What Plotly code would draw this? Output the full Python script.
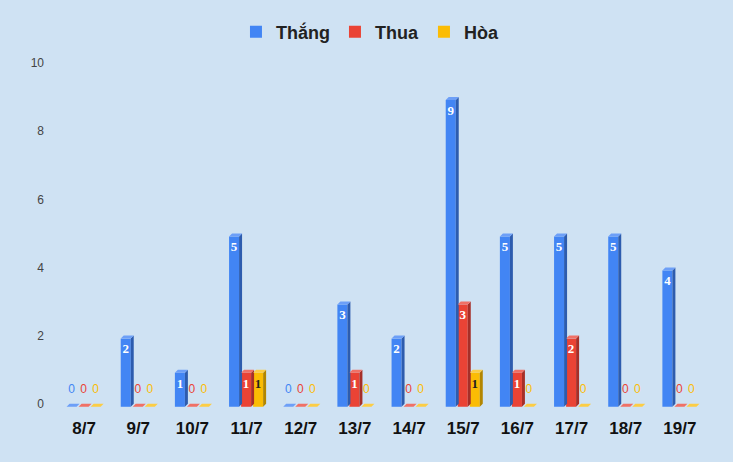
import plotly.graph_objects as go

# --- data ---
dates = ["8/7", "9/7", "10/7", "11/7", "12/7", "13/7", "14/7", "15/7", "16/7", "17/7", "18/7", "19/7"]
thang = [0, 2, 1, 5, 0, 3, 2, 9, 5, 5, 5, 4]
thua = [0, 0, 0, 1, 0, 1, 0, 3, 1, 2, 0, 0]
hoa = [0, 0, 0, 1, 0, 0, 0, 1, 0, 0, 0, 0]

# name, values, front, side, top, label colour
series = [
    ("Thắng", thang, "#4285f4", "#2d5cae", "#6d9ff7", "white"),
    ("Thua", thua, "#ea4335", "#a62f28", "#f07066", "white"),
    ("Hòa", hoa, "#fbbc04", "#b38600", "#fccd45", "#222222"),
]

offsets = [-0.231, -0.009, 0.213]  # group position of each series
bw = 0.185   # front face width
dx = 0.055   # depth, x units
dy = 0.088   # depth, y units

fig = go.Figure()

# front faces (legend entries)
for (name, vals, front, side, top, lab), off in zip(series, offsets):
    fig.add_trace(go.Bar(
        name=name,
        x=[k + off for k in range(len(vals))],
        y=vals,
        base=-dy,
        width=bw,
        marker=dict(color=front, line=dict(width=0)),
        hoverinfo="skip",
    ))

# side and top faces for the 3D look
for (name, vals, front, side, top, lab), off in zip(series, offsets):
    sx, sy, tx, ty = [], [], [], []
    for k, v in enumerate(vals):
        x0 = k + off - bw / 2
        x1 = k + off + bw / 2
        if v > 0:
            sx += [x1, x1 + dx, x1 + dx, x1, x1, None]
            sy += [-dy, 0, v, v - dy, -dy, None]
        tx += [x0, x0 + dx, x1 + dx, x1, x0, None]
        ty += [v - dy, v, v, v - dy, v - dy, None]
    fig.add_trace(go.Scatter(x=sx, y=sy, mode="lines", fill="toself", fillcolor=side,
                             line=dict(width=0), showlegend=False, hoverinfo="skip"))
    fig.add_trace(go.Scatter(x=tx, y=ty, mode="lines", fill="toself", fillcolor=top,
                             line=dict(width=0), showlegend=False, hoverinfo="skip"))

# value labels
for (name, vals, front, side, top, lab), off in zip(series, offsets):
    nz = [(k, v) for k, v in enumerate(vals) if v > 0]
    z = [k for k, v in enumerate(vals) if v == 0]
    fig.add_trace(go.Scatter(
        x=[k + off for k, v in nz], y=[v - dy - 0.15 for k, v in nz],
        text=[str(v) for k, v in nz], mode="text", textposition="bottom center",
        textfont=dict(family="Liberation Serif", size=13, color=lab, weight="bold"),
        showlegend=False, hoverinfo="skip", cliponaxis=False,
    ))
    fig.add_trace(go.Scatter(
        x=[k + off for k in z], y=[0.22 for k in z],
        text=["0" for k in z], mode="text", textposition="top center",
        textfont=dict(family="Liberation Sans", size=12, color=front),
        showlegend=False, hoverinfo="skip", cliponaxis=False,
    ))

fig.update_layout(
    width=733,
    height=462,
    paper_bgcolor="#cfe2f3",
    plot_bgcolor="#cfe2f3",
    margin=dict(l=57, r=26, t=63, b=48),
    barmode="overlay",
    showlegend=True,
    legend=dict(
        orientation="h", x=0.4815, xanchor="center", y=1.088, yanchor="middle",
        font=dict(family="Liberation Sans", size=18, color="#222222", weight="bold"),
        bgcolor="rgba(0,0,0,0)",
    ),
    xaxis=dict(
        range=[-0.5, 11.5], tickvals=list(range(len(dates))), ticktext=dates,
        showgrid=False, zeroline=False, showline=False, ticklabelstandoff=2,
        tickfont=dict(family="Liberation Sans", size=17, color="#111111", weight="bold"),
    ),
    yaxis=dict(
        range=[-0.3, 10], tickvals=[0, 2, 4, 6, 8, 10],
        showgrid=False, zeroline=False, showline=False, ticklabelstandoff=12,
        tickfont=dict(family="Liberation Sans", size=12, color="#444444"),
    ),
)

fig.write_html("out.html", config={"displayModeBar": False},
               post_script="document.body.style.margin='0';")
